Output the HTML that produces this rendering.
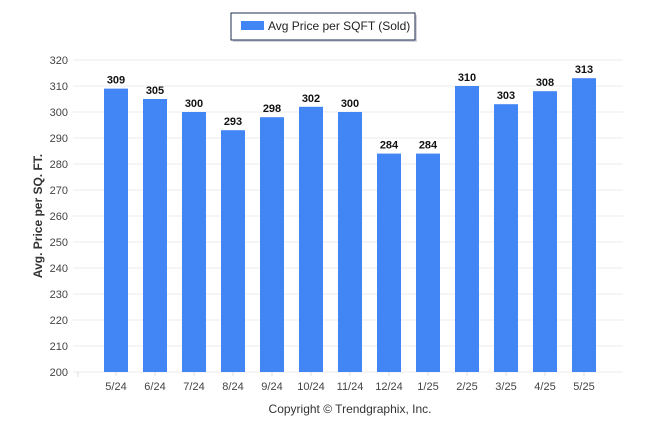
<!DOCTYPE html>
<html><head><meta charset="utf-8"><style>
body{margin:0;background:#fff;font-family:"Liberation Sans",sans-serif}
</style></head><body>
<svg width="646" height="434" xmlns="http://www.w3.org/2000/svg">
<g>
<rect x="233" y="15" width="184" height="27" fill="#aab" opacity="0.5"/>
<rect x="231" y="13" width="184" height="27" fill="#fff" stroke="#1f2d4d" stroke-width="1"/>
<rect x="241" y="21" width="23" height="9" fill="#4285f4"/>
<text x="268" y="30" font-size="12" fill="#222">Avg Price per SQFT (Sold)</text>
</g>
<g id="grid"></g><g id="bars"></g>
<text transform="translate(42,216) rotate(-90)" text-anchor="middle" font-size="12" font-weight="bold" fill="#333">Avg. Price per SQ. FT.</text>
<text x="350" y="413" text-anchor="middle" font-size="12" fill="#333">Copyright © Trendgraphix, Inc.</text>
</svg>
<script>
const categories=["5/24","6/24","7/24","8/24","9/24","10/24","11/24","12/24","1/25","2/25","3/25","4/25","5/25"];
const values=[309,305,300,293,298,302,300,284,284,310,303,308,313];
const yTicks=[200,210,220,230,240,250,260,270,280,290,300,310,320];
const ns="http://www.w3.org/2000/svg";
const y=v=>372-(v-200)*2.6;
const x=i=>116+i*39;
const grid=document.getElementById('grid'),bars=document.getElementById('bars');
function mk(tag,attrs,parent,txt){const e=document.createElementNS(ns,tag);for(const k in attrs)e.setAttribute(k,attrs[k]);if(txt!==undefined)e.textContent=txt;parent.appendChild(e);return e;}
yTicks.forEach(t=>{
 const l=mk('line',{x1:73,x2:623,y1:y(t),y2:y(t),stroke:'#ebebeb'},grid);
 
 
 const tx=mk('text',{x:68,y:y(t)+4,'text-anchor':'end','font-size':'11',fill:'#444'},grid,t);
 
 
});
mk('line',{x1:78,x2:78,y1:372,y2:377,stroke:'#ddd'},grid);
categories.forEach((c,i)=>{
 const v=values[i];
 const r=mk('rect',{x:x(i)-12,y:y(v),width:24,height:372-y(v),fill:'#4285f4'},bars);
 
 
 const lb=mk('text',{x:x(i),y:y(v)-5,'text-anchor':'middle','font-size':'11','font-weight':'bold',fill:'#111'},bars,v);
 
 
 mk('line',{x1:x(i),x2:x(i),y1:372,y2:376,stroke:'#ddd'},bars);
 const xl=mk('text',{x:x(i),y:390,'text-anchor':'middle','font-size':'11',fill:'#444'},bars,c);
 
 
});
</script>
</body></html>
